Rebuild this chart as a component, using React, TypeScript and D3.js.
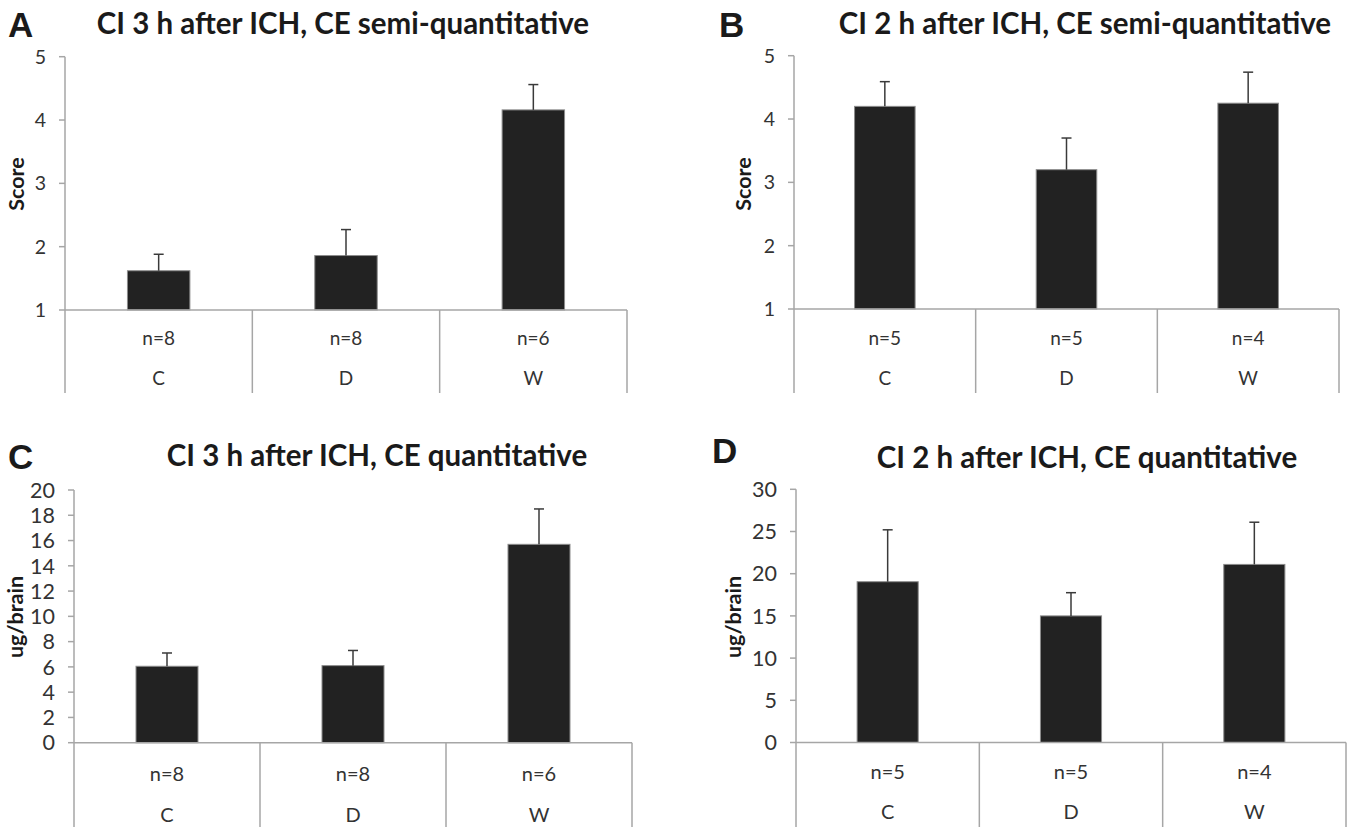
import { useEffect } from "react"
import * as d3 from "d3"

const categories = ["C", "D", "W"]

// panel A: CI 3 h, semi-quantitative
const scoreA = [1.62, 1.86, 4.16]
const errA = [0.26, 0.41, 0.40]
const nA = ["n=8", "n=8", "n=6"]

// panel B: CI 2 h, semi-quantitative
const scoreB = [4.2, 3.2, 4.25]
const errB = [0.39, 0.5, 0.49]
const nB = ["n=5", "n=5", "n=4"]

// panel C: CI 3 h, quantitative
const ugC = [6.05, 6.1, 15.7]
const errC = [1.05, 1.2, 2.8]
const nC = ["n=8", "n=8", "n=6"]

// panel D: CI 2 h, quantitative
const ugD = [19.05, 15.0, 21.1]
const errD = [6.15, 2.75, 5.0]
const nD = ["n=5", "n=5", "n=4"]

const ticksScore = [1, 2, 3, 4, 5]
const ticksC = [0, 2, 4, 6, 8, 10, 12, 14, 16, 18, 20]
const ticksD = [0, 5, 10, 15, 20, 25, 30]

const panels = [
    {
        letter: "A", title: "CI 3 h after ICH, CE semi-quantitative", yLabel: "Score",
        values: scoreA, errors: errA, ns: nA, domain: [1, 5], ticks: ticksScore,
        x0: 65, x1: 627, yTop: 56.7, yBot: 310, yEnd: 393, nY: 338, catY: 378,
        titleX: 343, titleY: 34, letterX: 8, letterY: 37, labelX: 16, labelY: 184, fs: 19, ts: 19.5, ls: 21.5
    },
    {
        letter: "B", title: "CI 2 h after ICH, CE semi-quantitative", yLabel: "Score",
        values: scoreB, errors: errB, ns: nB, domain: [1, 5], ticks: ticksScore,
        x0: 794, x1: 1339, yTop: 55.7, yBot: 309, yEnd: 393, nY: 338, catY: 378,
        titleX: 1085, titleY: 34, letterX: 719, letterY: 37, labelX: 743, labelY: 184, fs: 19, ts: 19.5, ls: 21.5
    },
    {
        letter: "C", title: "CI 3 h after ICH, CE quantitative", yLabel: "ug/brain",
        values: ugC, errors: errC, ns: nC, domain: [0, 20], ticks: ticksC,
        x0: 74, x1: 632, yTop: 490, yBot: 742.7, yEnd: 827, nY: 774, catY: 815,
        titleX: 377, titleY: 466, letterX: 8, letterY: 469, labelX: 15, labelY: 617, fs: 20, ts: 21.5, ls: 21.5
    },
    {
        letter: "D", title: "CI 2 h after ICH, CE quantitative", yLabel: "ug/brain",
        values: ugD, errors: errD, ns: nD, domain: [0, 30], ticks: ticksD,
        x0: 796, x1: 1346, yTop: 489.3, yBot: 742.5, yEnd: 827, nY: 772, catY: 812,
        titleX: 1087, titleY: 468, letterX: 712, letterY: 463, labelX: 733, labelY: 617, fs: 20, ts: 21.5, ls: 21.5
    }
]

const axisColor = "#a6a6a6"

const App = () => {

    useEffect(() => {
        document.body.style.margin = "0"
        const svg = d3.select("#figure")
        svg.selectAll("*").remove()

        panels.forEach((p) => {
            const g = svg.append("g")

            const x = d3.scaleBand()
                .domain(categories)
                .range([p.x0, p.x1])
                .paddingInner(0)
                .paddingOuter(0)
            const y = d3.scaleLinear()
                .domain(p.domain)
                .range([p.yBot, p.yTop])
            const barW = x.bandwidth() / 3

            // panel letter and title
            g.append("text")
                .attr("x", p.letterX)
                .attr("y", p.letterY)
                .attr("font-family", "Liberation Sans Narrow, Liberation Sans, Arial, sans-serif")
                .attr("font-weight", "bold")
                .attr("font-size", 35)
                .attr("fill", "#1a1a1a")
                .text(p.letter)
            g.append("text")
                .attr("x", p.titleX)
                .attr("y", p.titleY)
                .attr("text-anchor", "middle")
                .attr("font-family", "Lato, sans-serif")
                .attr("font-weight", "bold")
                .attr("font-size", 29.5)
                .attr("fill", "#1a1a1a")
                .text(p.title)

            // y axis
            g.append("line")
                .attr("x1", p.x0).attr("x2", p.x0)
                .attr("y1", p.yTop).attr("y2", p.yEnd)
                .attr("stroke", axisColor).attr("stroke-width", 1.5)
            g.selectAll(".tick")
                .data(p.ticks)
                .enter()
                .append("line")
                .attr("x1", p.x0 - 6).attr("x2", p.x0)
                .attr("y1", (d) => y(d)).attr("y2", (d) => y(d))
                .attr("stroke", axisColor).attr("stroke-width", 1.5)
            g.selectAll(".ticklabel")
                .data(p.ticks)
                .enter()
                .append("text")
                .attr("x", p.x0 - 19)
                .attr("y", (d) => y(d))
                .attr("dy", "0.36em")
                .attr("text-anchor", "end")
                .attr("font-family", "Lato, sans-serif")
                .attr("font-size", p.ts)
                .attr("fill", "#333")
                .text((d) => d)
            g.append("text")
                .attr("transform", `translate(${p.labelX},${p.labelY}) rotate(-90)`)
                .attr("dy", "0.35em")
                .attr("text-anchor", "middle")
                .attr("font-family", "Lato, sans-serif")
                .attr("font-weight", "bold")
                .attr("font-size", p.ls)
                .attr("fill", "#1a1a1a")
                .text(p.yLabel)

            // bars
            g.selectAll(".bar")
                .data(p.values)
                .enter()
                .append("rect")
                .attr("x", (d, i) => x(categories[i]) + x.bandwidth() / 2 - barW / 2)
                .attr("y", (d) => y(d))
                .attr("width", barW)
                .attr("height", (d) => y(p.domain[0]) - y(d))
                .attr("fill", "#222")
                .attr("stroke", "#8c8c8c")
                .attr("stroke-width", 1)

            // error bars
            const err = g.selectAll(".err")
                .data(p.values)
                .enter()
                .append("g")
            err.append("line")
                .attr("x1", (d, i) => x(categories[i]) + x.bandwidth() / 2)
                .attr("x2", (d, i) => x(categories[i]) + x.bandwidth() / 2)
                .attr("y1", (d) => y(d))
                .attr("y2", (d, i) => y(d + p.errors[i]))
                .attr("stroke", "#3a3a3a").attr("stroke-width", 1.5)
            err.append("line")
                .attr("x1", (d, i) => x(categories[i]) + x.bandwidth() / 2 - 5)
                .attr("x2", (d, i) => x(categories[i]) + x.bandwidth() / 2 + 5)
                .attr("y1", (d, i) => y(d + p.errors[i]))
                .attr("y2", (d, i) => y(d + p.errors[i]))
                .attr("stroke", "#3a3a3a").attr("stroke-width", 1.5)

            // x axis with category table
            g.append("line")
                .attr("x1", p.x0).attr("x2", p.x1)
                .attr("y1", p.yBot).attr("y2", p.yBot)
                .attr("stroke", axisColor).attr("stroke-width", 1.5)
            g.selectAll(".divider")
                .data(categories)
                .enter()
                .append("line")
                .attr("x1", (d) => x(d) + x.bandwidth())
                .attr("x2", (d) => x(d) + x.bandwidth())
                .attr("y1", p.yBot).attr("y2", p.yEnd)
                .attr("stroke", axisColor).attr("stroke-width", 1.5)
            g.selectAll(".nlabel")
                .data(p.ns)
                .enter()
                .append("text")
                .attr("x", (d, i) => x(categories[i]) + x.bandwidth() / 2)
                .attr("y", p.nY)
                .attr("dy", "0.36em")
                .attr("text-anchor", "middle")
                .attr("font-family", "Lato, sans-serif")
                .attr("font-size", p.fs)
                .attr("fill", "#333")
                .text((d) => d)
            g.selectAll(".catlabel")
                .data(categories)
                .enter()
                .append("text")
                .attr("x", (d) => x(d) + x.bandwidth() / 2)
                .attr("y", p.catY)
                .attr("dy", "0.36em")
                .attr("text-anchor", "middle")
                .attr("font-family", "Lato, sans-serif")
                .attr("font-size", p.fs)
                .attr("fill", "#333")
                .text((d) => d)
        })
    }, [])

    return (
        <div>
            <svg id="figure" width="1355" height="827"
                style={{ position: "absolute", left: 0, top: 0, background: "#fff" }}></svg>
        </div>
    )
}

export default App
